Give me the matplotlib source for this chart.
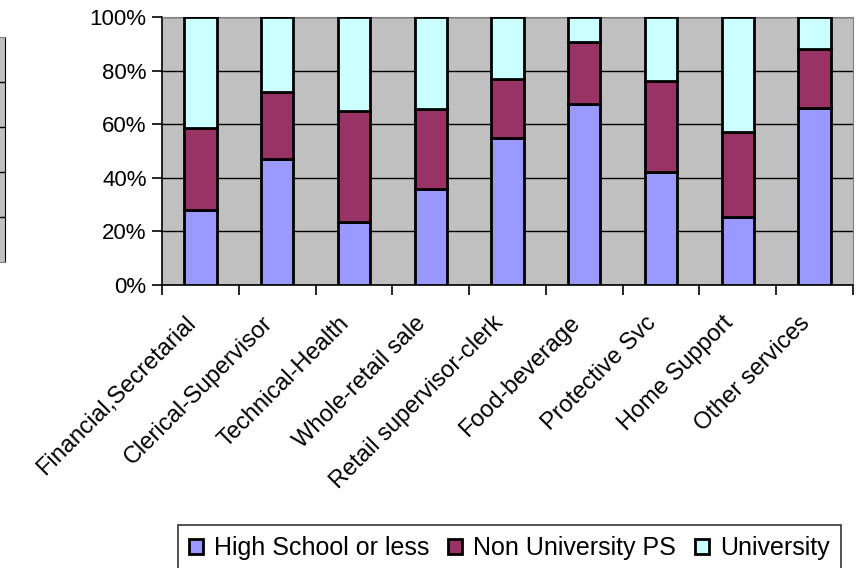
import numpy as np
import matplotlib
matplotlib.use("Agg")
import matplotlib.pyplot as plt
from matplotlib.patches import Patch
from matplotlib.ticker import PercentFormatter
from matplotlib.transforms import ScaledTranslation

plt.rcParams['font.family'] = ['Liberation Sans', 'DejaVu Sans']

categories = ['Financial,Secretarial', 'Clerical-Supervisor', 'Technical-Health',
              'Whole-retail sale', 'Retail supervisor-clerk', 'Food-beverage',
              'Protective Svc', 'Home Support', 'Other services']
high_school = [28, 47, 23.5, 36, 55, 67.5, 42, 25.5, 66]
non_university = [30.5, 25, 41.5, 29.5, 22, 23, 34, 31.5, 22]
university = [41.5, 28, 35, 34.5, 23, 9.5, 24, 43, 12]
series_names = ['High School or less', 'Non University PS', 'University']
colors = ['#9999FF', '#993366', '#CCFFFF']

W, H = 857, 568
fig = plt.figure(figsize=(W / 100, H / 100), dpi=100)

# fragment of a neighbouring chart at the far left edge
frag = fig.add_axes([-0.02, 1 - 262 / H, 0.02 + 5 / W, 225 / H])
frag.set_facecolor('#C0C0C0')
frag.set_xlim(0, 1)
frag.set_ylim(0, 5)
for yv in range(1, 5):
    frag.axhline(yv, color='black', lw=1)
for s in ['left', 'top', 'bottom']:
    frag.spines[s].set_color('#808080')
frag.spines['right'].set_color('black')
frag.set_xticks([])
frag.set_yticks([])

ax = fig.add_axes([162 / W, 1 - 285 / H, 691 / W, 268 / H])
ax.set_facecolor('#C0C0C0')

x = np.arange(len(categories))
bottom = np.zeros(len(categories))
for vals, col in zip([high_school, non_university, university], colors):
    ax.bar(x, vals, width=0.42, bottom=bottom, color=col,
           edgecolor='black', linewidth=2, zorder=3)
    bottom += np.array(vals)

ax.set_xlim(-0.5, len(categories) - 0.5)
ax.set_ylim(0, 100)
ax.set_yticks(np.arange(0, 101, 20))
ax.yaxis.set_major_formatter(PercentFormatter(decimals=0))
ax.grid(axis='y', color='black', linewidth=1, zorder=1)
ax.set_axisbelow(True)

ax.set_xticks(np.arange(len(categories) + 1) - 0.5)
ax.set_xticklabels([])
ax.set_xticks(x, minor=True)
ax.set_xticklabels(categories, minor=True, rotation=45, ha='right',
                   va='center', rotation_mode='anchor', fontsize=17)
ax.tick_params(axis='x', which='minor', length=0, pad=25)
ax.tick_params(axis='both', which='major', direction='out', length=7,
               width=1.2, color='black', labelsize=16)
ax.tick_params(axis='y', pad=4)
shift = ScaledTranslation(-8 / 100, 0, fig.dpi_scale_trans)
for lbl in ax.get_xticklabels(minor=True):
    lbl.set_transform(lbl.get_transform() + shift)

ax.spines['left'].set_color('black')
ax.spines['bottom'].set_color('black')
ax.spines['left'].set_linewidth(1.2)
ax.spines['bottom'].set_linewidth(1.2)
ax.spines['top'].set_color('#808080')
ax.spines['right'].set_color('#808080')

handles = [Patch(facecolor=c, edgecolor='black', linewidth=2) for c in colors]
leg = fig.legend(handles, series_names, loc='upper left',
                 bbox_to_anchor=(178 / W, 1 - 525 / H), ncol=3,
                 fontsize=18, frameon=True, fancybox=False,
                 handlelength=0.55, handleheight=0.55, handletextpad=0.45,
                 columnspacing=0.75, borderpad=0.45, borderaxespad=0)
leg.get_frame().set_edgecolor('black')
leg.get_frame().set_linewidth(1.2)

fig.savefig('out.png', dpi=100)
